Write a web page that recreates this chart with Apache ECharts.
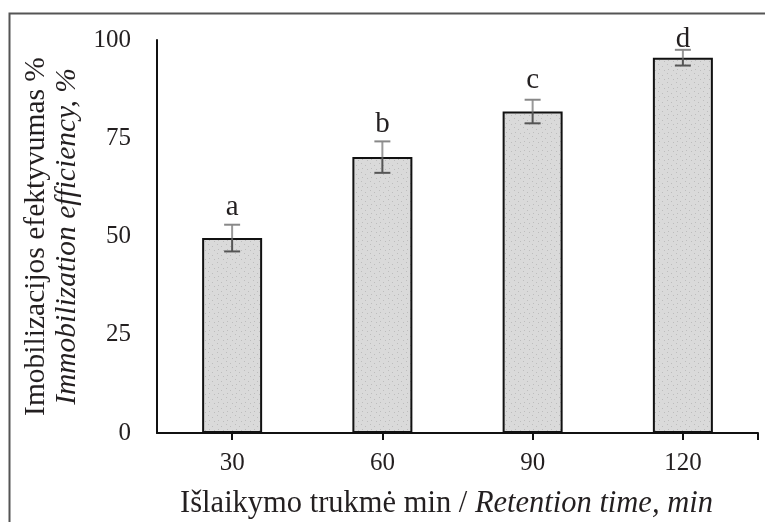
<!DOCTYPE html>
<html>
<head>
<meta charset="utf-8">
<script src="https://cdn.jsdelivr.net/npm/echarts@6/dist/echarts.min.js"></script>
<style>
html,body{margin:0;padding:0;background:#fff;}
#c{width:765px;height:522px;}
</style>
</head>
<body>
<div id="c"></div>
<script>
// ---- data ----
const retentionTimes = [30, 60, 90, 120];
const efficiency = [49.6, 70.2, 81.8, 95.5];
const errors = [3.4, 4.0, 3.0, 2.0];
const letters = ['a', 'b', 'c', 'd'];
const letterLevels = [55.3, 76.4, 87.6, 98.0]; // baseline of significance letters, in % units
const yTicks = [0, 25, 50, 75, 100];

const FONT = '"Liberation Serif", "DejaVu Serif", serif';
const TXT = '#231f20';

// dotted fill pattern
const pat = document.createElement('canvas');
pat.width = 9; pat.height = 9;
const pc = pat.getContext('2d');
pc.fillStyle = '#dadada';
pc.fillRect(0, 0, 9, 9);
pc.fillStyle = '#bdbdbd';
pc.fillRect(1, 1, 1, 1);
pc.fillRect(5, 3, 1, 1);
pc.fillRect(2, 6, 1, 1);
pc.fillRect(7, 7, 1, 1);

const chart = echarts.init(document.getElementById('c'), null, {renderer: 'canvas'});

const barData = retentionTimes.map((t, i) => [t, efficiency[i]]);
const errData = retentionTimes.map((t, i) => [t, efficiency[i], errors[i]]);

chart.setOption({
  animation: false,
  backgroundColor: '#fff',
  grid: {left: 157, right: 7, top: 40, bottom: 89, containLabel: false, outerBoundsMode: 'none'},
  graphic: [{
    type: 'rect', left: 7, top: 11, z: -1,
    shape: {width: 800, height: 600},
    style: {fill: 'none', stroke: '#555', lineWidth: 2}
  }],
  xAxis: {
    type: 'value', min: 15, max: 135,
    splitLine: {show: false},
    axisLine: {show: true, lineStyle: {color: '#111', width: 2}},
    axisTick: {show: true, length: 7, lineStyle: {color: '#111', width: 2},
               customValues: retentionTimes.concat([135])},
    axisLabel: {customValues: retentionTimes, margin: 18, color: TXT,
                fontFamily: FONT, fontSize: 25},
    name: '{r|Išlaikymo trukmė min / }{i|Retention time, min}',
    nameLocation: 'middle', nameGap: 55,
    nameTextStyle: {
      padding: [0, 22, 0, 0],
      rich: {
        r: {fontFamily: FONT, fontSize: 30.5, color: TXT},
        i: {fontFamily: FONT, fontSize: 30.5, fontStyle: 'italic', color: TXT}
      }
    }
  },
  yAxis: {
    type: 'value', min: 0, max: 100, interval: 25,
    splitLine: {show: false},
    axisLine: {show: true, lineStyle: {color: '#111', width: 2}},
    axisTick: {show: false},
    axisLabel: {margin: 26, color: TXT, fontFamily: FONT, fontSize: 25,
                formatter: v => yTicks.includes(v) ? String(v) : ''},
    name: '{r|Imobilizacijos efektyvumas %}\n{i|Immobilization efficiency, %}',
    nameLocation: 'middle', nameGap: 74, nameRotate: 90,
    nameTextStyle: {
      rich: {
        r: {fontFamily: FONT, fontSize: 29.5, color: TXT, lineHeight: 31},
        i: {fontFamily: FONT, fontSize: 29.5, fontStyle: 'italic', color: TXT, lineHeight: 31}
      }
    }
  },
  series: [{
    type: 'bar',
    data: barData,
    barWidth: 60,
    itemStyle: {color: {image: pat, repeat: 'repeat'}, borderColor: '#111', borderWidth: 2}
  }, {
    type: 'custom',
    data: errData,
    z: 10,
    renderItem: function (params, api) {
      const i = params.dataIndex;
      const x = api.value(0), v = api.value(1), e = api.value(2);
      const pv = api.coord([x, v]);
      const ph = api.coord([x, v + e]);
      const pl = api.coord([x, v - e]);
      const pt = api.coord([x, letterLevels[i]]);
      const cap = 8;
      return {
        type: 'group',
        children: [
          {type: 'line', shape: {x1: pv[0], y1: pv[1], x2: ph[0], y2: ph[1]},
           style: {stroke: '#999', lineWidth: 2}},
          {type: 'line', shape: {x1: pv[0], y1: pv[1], x2: pl[0], y2: pl[1]},
           style: {stroke: '#555', lineWidth: 2}},
          {type: 'line', shape: {x1: ph[0] - cap, y1: ph[1], x2: ph[0] + cap, y2: ph[1]},
           style: {stroke: '#888', lineWidth: 2}},
          {type: 'line', shape: {x1: pl[0] - cap, y1: pl[1], x2: pl[0] + cap, y2: pl[1]},
           style: {stroke: '#555', lineWidth: 2}},
          {type: 'text', x: pt[0], y: pt[1] + 6,
           style: {text: letters[i], x: 0, y: 0, align: 'center', verticalAlign: 'bottom',
                   fontFamily: FONT, fontSize: 29, fill: TXT}}
        ]
      };
    }
  }]
});
</script>
</body>
</html>
